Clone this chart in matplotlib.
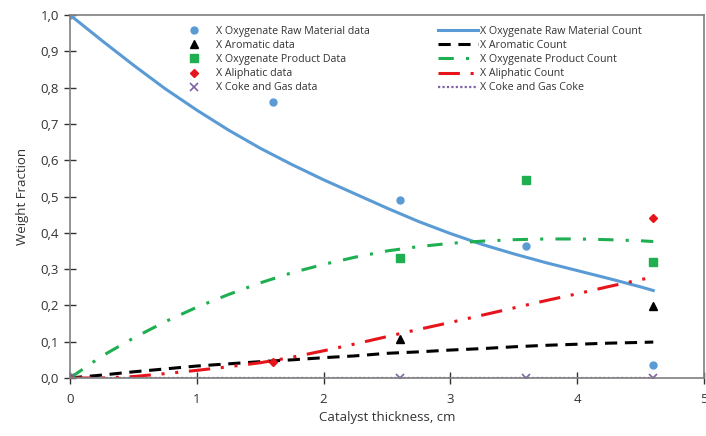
import matplotlib
matplotlib.use("Agg")
import matplotlib.pyplot as plt
from matplotlib.ticker import FuncFormatter

plt.rcParams['font.family'] = ['Open Sans', 'DejaVu Sans']

# measured points
raw_x = [0, 1.6, 2.6, 3.6, 4.6]
raw_y = [1.0, 0.76, 0.49, 0.365, 0.035]
arom_x = [0, 2.6, 4.6]
arom_y = [0.0, 0.107, 0.199]
prod_x = [0, 2.6, 3.6, 4.6]
prod_y = [0.0, 0.33, 0.545, 0.32]
aliph_x = [0, 1.6, 4.6]
aliph_y = [0.0, 0.045, 0.44]
coke_x = [0, 2.6, 3.6, 4.6]
coke_y = [0.0, 0.0, 0.0, 0.0]

# model curves
cx = [0, 0.25, 0.5, 0.75, 1.0, 1.25, 1.5, 1.75, 2.0, 2.25, 2.5, 2.75,
      3.0, 3.25, 3.5, 3.75, 4.0, 4.25, 4.5, 4.6]
raw_c = [1.0, 0.93, 0.862, 0.797, 0.738, 0.683, 0.633, 0.588, 0.546, 0.507, 0.468, 0.431,
         0.398, 0.368, 0.342, 0.318, 0.296, 0.274, 0.251, 0.241]
arom_c = [0.0, 0.008, 0.017, 0.025, 0.033, 0.039, 0.045, 0.05, 0.056, 0.061, 0.068, 0.072,
          0.077, 0.081, 0.086, 0.09, 0.093, 0.096, 0.098, 0.099]
prod_c = [0.0, 0.06, 0.11, 0.155, 0.195, 0.23, 0.262, 0.29, 0.313, 0.333, 0.35, 0.362,
          0.371, 0.377, 0.381, 0.383, 0.383, 0.381, 0.378, 0.376]
aliph_c = [0.0, 0.0, 0.004, 0.012, 0.021, 0.031, 0.042, 0.057, 0.075, 0.094, 0.114, 0.134,
           0.153, 0.173, 0.193, 0.213, 0.232, 0.252, 0.271, 0.278]
coke_c = [0.0] * len(cx)

blue = '#5B9BD5'
green = '#1DAF50'
red = '#E8141B'
purple = '#8064A2'

fig = plt.figure(figsize=(7.06, 4.36), dpi=100)
ax = fig.add_axes([70 / 706, 58 / 436, 634 / 706, 363 / 436])

l1, = ax.plot(cx, raw_c, color=blue, lw=2.2, label='X Oxygenate Raw Material Count')
l2, = ax.plot(cx, arom_c, color='black', lw=2.2, ls=(0, (4, 2.5)), label='X Aromatic Count')
l3, = ax.plot(cx, prod_c, color=green, lw=2.2, ls=(0, (5, 4, 1, 4)), label='X Oxygenate Product Count')
l4, = ax.plot(cx, aliph_c, color=red, lw=2.2, ls=(0, (7, 3.5, 1, 3.5, 1, 3.5)), label='X Aliphatic Count')
l5, = ax.plot(cx, coke_c, color=purple, lw=1.6, ls=(0, (1, 1)), label='X Coke and Gas Coke')

m1, = ax.plot(raw_x, raw_y, 'o', color=blue, ms=5, ls='none', label='X Oxygenate Raw Material data')
m2, = ax.plot(arom_x, arom_y, '^', color='black', ms=6, ls='none', label='X Aromatic data')
m3, = ax.plot(prod_x, prod_y, 's', color=green, ms=6, ls='none', label='X Oxygenate Product Data')
m4, = ax.plot(aliph_x, aliph_y, 'D', color=red, ms=4.5, ls='none', label='X Aliphatic data')
m5, = ax.plot(coke_x, coke_y, 'x', color=purple, ms=6, mew=1.2, ls='none', label='X Coke and Gas data')

ax.set_xlim(0, 5)
ax.set_ylim(0, 1.0)
ax.set_xticks([0, 1, 2, 3, 4, 5])
ax.set_yticks([i / 10 for i in range(11)])
ax.yaxis.set_major_formatter(FuncFormatter(lambda v, p: f'{v:.1f}'.replace('.', ',')))
ax.tick_params(direction='inout', length=9, width=1, labelsize=9.5, colors='#333333')
ax.tick_params(axis='x', pad=6)
for s in ax.spines.values():
    s.set_color('#7f7f7f')
    s.set_linewidth(1.2)

ax.set_xlabel('Catalyst thickness, cm', fontsize=9.5, color='#333333')
ax.set_ylabel('Weight Fraction', fontsize=9.5, color='#333333', labelpad=8)

leg_kw = dict(frameon=False, fontsize=7.7, handlelength=3.75, handletextpad=0.2,
              labelspacing=0.29, borderpad=0, borderaxespad=0, loc='upper left')
lg1 = fig.legend(handles=[m1, m2, m3, m4, m5], bbox_to_anchor=(174 / 706, 1 - 26 / 436), **leg_kw)
for t in lg1.get_texts():
    t.set_color('#333333')
lg2 = fig.legend(handles=[l1, l2, l3, l4, l5], bbox_to_anchor=(438 / 706, 1 - 26 / 436), **leg_kw)
for t in lg2.get_texts():
    t.set_color('#333333')

fig.savefig('out.png', dpi=100)
